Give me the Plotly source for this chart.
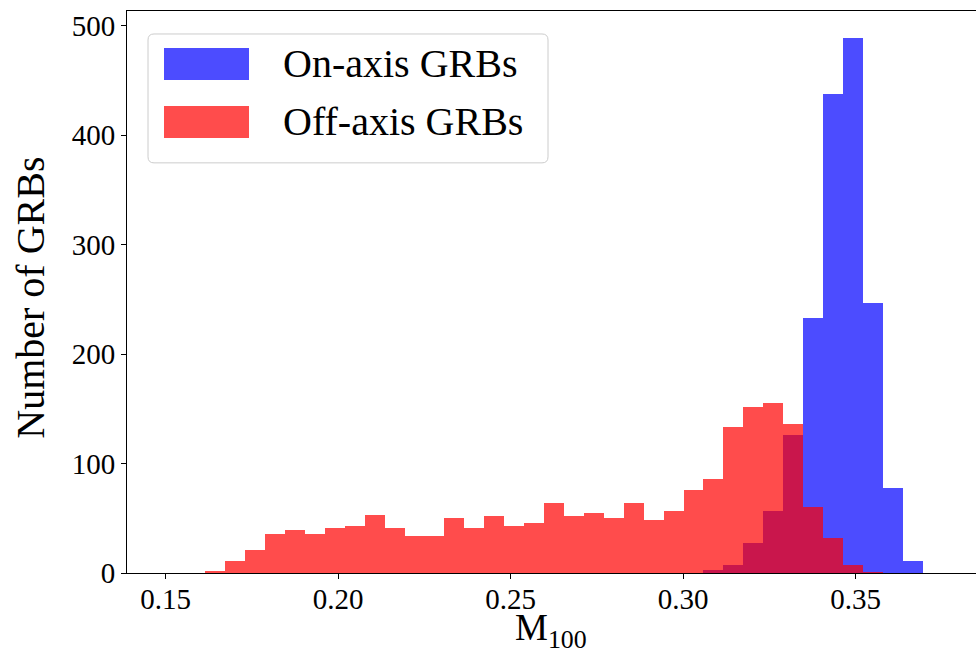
import numpy as np
import plotly.graph_objects as go

# Histogram binning shared by both populations
EDGE_START = 0.1615
BIN_WIDTH = 0.005775
N_BINS = 36

# Counts per bin
on_axis_counts = [0] * 25 + [3, 7, 27, 57, 126, 233, 438, 489, 247, 78, 11]
off_axis_counts = [2, 11, 21, 36, 39, 36, 41, 43, 53, 41,
                   34, 34, 50, 41, 52, 43, 46, 64, 52, 55,
                   50, 64, 48, 57, 76, 86, 133, 152, 155, 136,
                   60, 32, 7, 1, 0, 0]

series_names = ["On-axis GRBs", "Off-axis GRBs"]
series_colors = ["rgba(0,0,255,0.7)", "rgba(255,0,0,0.7)"]

x_ticks = [0.15, 0.20, 0.25, 0.30, 0.35]
y_ticks = [0, 100, 200, 300, 400, 500]

edges = EDGE_START + BIN_WIDTH * np.arange(N_BINS + 1)
centers = 0.5 * (edges[:-1] + edges[1:])

W, H = 976, 655
ML, MR, MT, MB = 127, 0, 11, 81.5
PW, PH = W - ML - MR, H - MT - MB
FONT = "Liberation Serif"


def px(x):
    return (x - ML) / PW


def py(y):
    return (H - MB - y) / PH


fig = go.Figure()
for counts, name, color in zip([on_axis_counts, off_axis_counts], series_names, series_colors):
    fig.add_trace(go.Bar(
        x=centers, y=counts, width=BIN_WIDTH, name=name,
        marker=dict(color=color, line=dict(width=0)),
        showlegend=False,
    ))


def rounded_rect(x0, y0, x1, y1, r):
    rx, ry = r / PW, r / PH
    X0, X1 = px(x0), px(x1)
    Y0, Y1 = py(y0), py(y1)  # Y0 top, Y1 bottom in paper units
    return (f"M{X0 + rx},{Y0} L{X1 - rx},{Y0} Q{X1},{Y0} {X1},{Y0 - ry} "
            f"L{X1},{Y1 + ry} Q{X1},{Y1} {X1 - rx},{Y1} "
            f"L{X0 + rx},{Y1} Q{X0},{Y1} {X0},{Y1 + ry} "
            f"L{X0},{Y0 - ry} Q{X0},{Y0} {X0 + rx},{Y0} Z")


shapes = [dict(type="path", xref="paper", yref="paper", layer="above",
               path=rounded_rect(148, 34, 548, 163, 6),
               fillcolor="rgba(255,255,255,0.8)", line=dict(color="#cccccc", width=1))]
annotations = []
row_centers = [64, 122]
for name, color, yc in zip(series_names, series_colors, row_centers):
    shapes.append(dict(type="rect", xref="paper", yref="paper", layer="above",
                       x0=px(164), x1=px(249), y0=py(yc + 16), y1=py(yc - 16),
                       fillcolor=color, line=dict(width=0)))
    annotations.append(dict(text=name, xref="paper", yref="paper", x=px(281), y=py(yc),
                            xanchor="left", yanchor="middle", showarrow=False,
                            font=dict(family=FONT, size=40, color="black")))

annotations.append(dict(text="M<sub>100</sub>", xref="paper", yref="paper",
                        x=px(551), y=py(631), xanchor="center", yanchor="middle",
                        borderpad=0, showarrow=False,
                        font=dict(family=FONT, size=37, color="black")))
annotations.append(dict(text="Number of GRBs", xref="paper", yref="paper",
                        x=px(31), y=py(298), xanchor="center", yanchor="middle",
                        textangle=-90, showarrow=False,
                        font=dict(family=FONT, size=40, color="black")))

fig.update_layout(
    width=W, height=H, barmode="overlay", bargap=0,
    margin=dict(l=ML, r=MR, t=MT, b=MB, pad=0),
    plot_bgcolor="white", paper_bgcolor="white",
    shapes=shapes, annotations=annotations,
    font=dict(family=FONT, color="black"),
)
fig.update_xaxes(
    range=[0.15 - 38.6 / 3452, 0.15 + 810.7 / 3452],
    tickvals=x_ticks, ticktext=[f"{v:.2f}" for v in x_ticks],
    ticks="outside", ticklen=5, tickwidth=1.1, tickcolor="black",
    ticklabelstandoff=-5,
    showline=True, linecolor="black", linewidth=1.1, mirror=True,
    showgrid=False, zeroline=False, tickfont=dict(family=FONT, size=29),
)
fig.update_yaxes(
    range=[0, 513.5], tickvals=y_ticks,
    ticks="outside", ticklen=5, tickwidth=1.1, tickcolor="black",
    showline=True, linecolor="black", linewidth=1.1,
    showgrid=False, zeroline=False, tickfont=dict(family=FONT, size=29),
)

fig.write_html("out.html")
